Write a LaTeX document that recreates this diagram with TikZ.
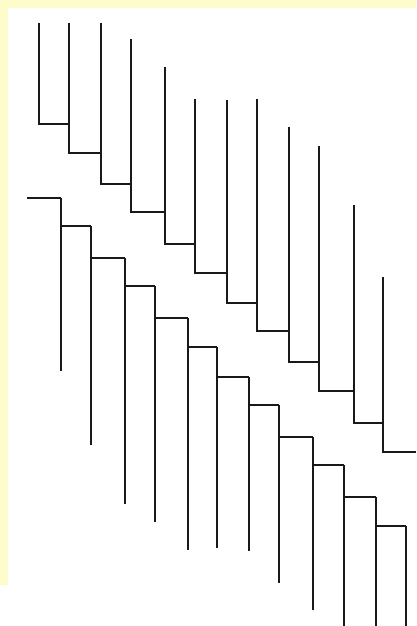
\documentclass[tikz,border=0pt]{standalone}
\definecolor{bgyellow}{RGB}{255,252,204}
\definecolor{branch}{RGB}{25,25,25}
\tikzset{edge/.style={draw=branch,line width=1.5pt}}
\begin{document}
\begin{tikzpicture}[x=1pt,y=-1pt]
\useasboundingbox (0,0) rectangle (416,626);
\fill[bgyellow] (0,0) rectangle (416,585);
\fill[white] (8,8) rectangle (416,626);
% upper tree: name/x/top/bottom
\foreach \i/\x/\t/\b in {1/39/23/124,2/69/23/153,3/101/23/184,4/131/39/212,5/165/67/244,6/195/99/273,7/227/100/303,8/257/99/331,9/289/127/362,10/319/146/391,11/354/205/423,12/383/277/452}{
  \coordinate (ut\i) at (\x,\t);
  \coordinate (ub\i) at (\x,\b);
}
\coordinate (uroot) at (416,452);
\foreach \i/\j in {1/2,2/3,3/4,4/5,5/6,6/7,7/8,8/9,9/10,10/11,11/12}{
  \draw[edge] (ut\i) -- (ub\i) -- (ub\i -| ut\j);
}
\draw[edge] (ut12) -- (ub12) -- (uroot);
% lower tree: name/x/top/bottom
\foreach \i/\x/\t/\b in {1/61/198/371,2/91/226/445,3/125/258/504,4/155/286/522,5/188/318/550,6/217/347/548,7/249/377/551,8/279/405/583,9/313/437/610,10/344/465/626,11/376/497/626,12/406/526/626}{
  \coordinate (lt\i) at (\x,\t);
  \coordinate (lb\i) at (\x,\b);
}
\coordinate (lroot) at (27,198);
\draw[edge] (lroot) -- (lt1);
\foreach \i/\j in {1/2,2/3,3/4,4/5,5/6,6/7,7/8,8/9,9/10,10/11,11/12}{
  \draw[edge] (lt\j -| lt\i) -- (lt\j);
}
\foreach \i in {1,...,12}{
  \draw[edge] (lt\i) -- (lb\i);
}
\end{tikzpicture}
\end{document}
